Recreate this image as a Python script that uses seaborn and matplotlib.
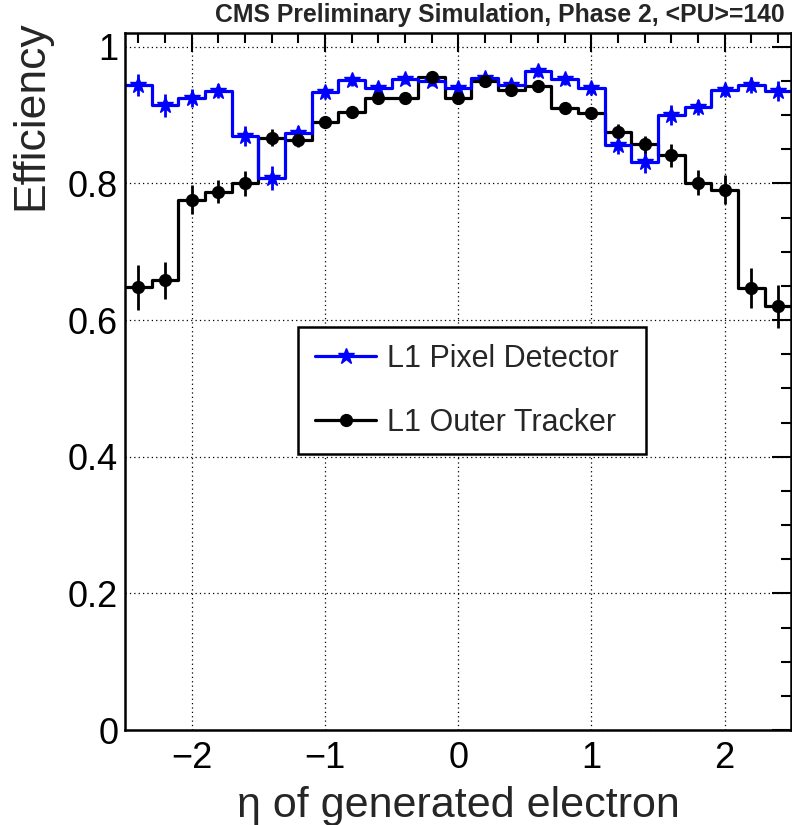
import numpy as np
import pandas as pd
import matplotlib
matplotlib.use("Agg")
import matplotlib.pyplot as plt
from matplotlib.lines import Line2D
from matplotlib.ticker import MultipleLocator, FuncFormatter
import seaborn as sns

# 25 bins in eta, -2.5 .. 2.5
n_bins = 25
eta_range = (-2.5, 2.5)
eta_edges = np.linspace(eta_range[0], eta_range[1], n_bins + 1)
eta_centers = np.round(0.5 * (eta_edges[:-1] + eta_edges[1:]), 2)

pixel_eff = [0.944, 0.914, 0.925, 0.935, 0.869, 0.808, 0.874, 0.933, 0.951, 0.939,
             0.952, 0.950, 0.939, 0.954, 0.944, 0.964, 0.952, 0.939, 0.856, 0.831,
             0.900, 0.911, 0.937, 0.944, 0.935]
pixel_err = [0.016, 0.017, 0.013, 0.010, 0.015, 0.017, 0.010, 0.009, 0.008, 0.008,
             0.007, 0.007, 0.007, 0.007, 0.007, 0.008, 0.008, 0.009, 0.013, 0.016,
             0.014, 0.011, 0.010, 0.012, 0.015]
outer_eff = [0.648, 0.658, 0.776, 0.788, 0.800, 0.867, 0.864, 0.890, 0.905, 0.925,
             0.925, 0.956, 0.925, 0.950, 0.936, 0.942, 0.910, 0.903, 0.875, 0.857,
             0.841, 0.801, 0.791, 0.647, 0.620]
outer_err = [0.033, 0.027, 0.021, 0.017, 0.018, 0.013, 0.011, 0.009, 0.008, 0.007,
             0.007, 0.006, 0.007, 0.006, 0.007, 0.007, 0.008, 0.009, 0.012, 0.013,
             0.017, 0.018, 0.021, 0.029, 0.032]

labels = ['L1 Pixel Detector', 'L1 Outer Tracker']
colors = {'L1 Pixel Detector': 'blue', 'L1 Outer Tracker': 'black'}
markers = {'L1 Pixel Detector': ('*', 12), 'L1 Outer Tracker': ('o', 8.5)}

sns.set_theme(style="white")
plt.rcParams['font.family'] = ['Liberation Sans', 'DejaVu Sans']

df = pd.DataFrame({
    'eta': np.concatenate([eta_centers, eta_centers]),
    'eff': pixel_eff + outer_eff,
    'err': pixel_err + outer_err,
    'detector': [labels[0]] * len(pixel_eff) + [labels[1]] * len(outer_eff),
})

fig = plt.figure(figsize=(7.92, 8.25), dpi=100)
ax = fig.add_axes([0.158, 0.115, 0.841, 0.845])

sns.histplot(data=df, x='eta', weights='eff', hue='detector', hue_order=labels,
             bins=n_bins, binrange=eta_range, element='step', fill=False,
             palette=colors, linewidth=2.3, legend=False, ax=ax)

handles = []
for det in labels:
    sub = df[df['detector'] == det]
    m, ms = markers[det]
    ax.errorbar(sub['eta'], sub['eff'], yerr=sub['err'], fmt=m, color=colors[det],
                markersize=ms, elinewidth=2, capsize=0, zorder=4)
    handles.append(Line2D([], [], color=colors[det], marker=m, markersize=ms, lw=2.3))

ax.set_xlim(*eta_range)
ax.set_ylim(0, 1.02)
ax.xaxis.set_major_locator(MultipleLocator(1))
ax.xaxis.set_minor_locator(MultipleLocator(0.2))
ax.yaxis.set_major_locator(MultipleLocator(0.2))
ax.yaxis.set_minor_locator(MultipleLocator(0.05))
ax.yaxis.set_major_formatter(FuncFormatter(lambda v, p: '{:g}'.format(round(v, 2))))

ax.set_axisbelow(True)
ax.grid(True, which='major', color='black', linestyle=(0, (1, 2.5)), linewidth=0.9)
ax.tick_params(which='both', direction='in', top=True, right=True, width=1.5,
               labelsize=26, colors='black')
ax.tick_params(which='major', length=14)
ax.tick_params(which='minor', length=7)
ax.tick_params(axis='x', pad=8)
ax.tick_params(axis='y', pad=5)
for s in ax.spines.values():
    s.set_linewidth(1.8)
    s.set_color('black')

ax.set_xlabel('η of generated electron', fontsize=31)
ax.xaxis.set_label_coords(0.5, -0.08)
ax.set_ylabel('Efficiency', fontsize=32, loc='top')
ax.yaxis.set_label_coords(-0.11, 1.018)

leg = ax.legend(handles, labels, loc='upper left', bbox_to_anchor=(0.26, 0.398, 0.5225, 0.18),
                mode='expand', borderaxespad=0, fontsize=22, frameon=True, fancybox=False,
                handlelength=2.0, handletextpad=0.35, labelspacing=1.1, borderpad=0.55,
                edgecolor='black', framealpha=1)
leg.get_frame().set_linewidth(1.8)

fig.text(0.991, 0.996, 'CMS Preliminary Simulation, Phase 2, <PU>=140', ha='right', va='top',
         fontsize=17.8, fontweight='bold')

fig.savefig('out.png', dpi=100)
